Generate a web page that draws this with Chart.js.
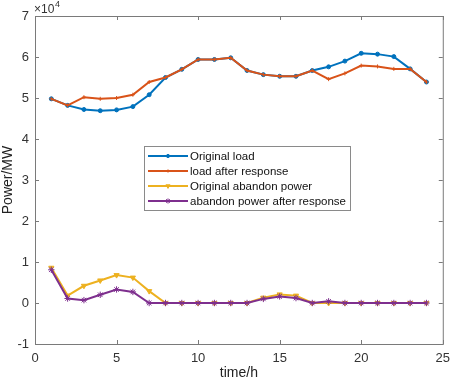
<!DOCTYPE html>
<html>
<head>
<meta charset="utf-8">
<script src="https://cdn.jsdelivr.net/npm/chart.js@4.4.1/dist/chart.umd.min.js"></script>
<style>
    html, body { margin: 0; padding: 0; background: #fff; }
    #wrap { width: 457px; height: 382px; }
</style>
</head>
<body>
<div id="wrap"><canvas id="chart1"></canvas></div>
<script>
// часы и значения (x10^4 MW)
const hours = [1, 2, 3, 4, 5, 6, 7, 8, 9, 10, 11, 12, 13, 14, 15, 16, 17, 18, 19, 20, 21, 22, 23, 24];
const originalLoad = [4.98, 4.82, 4.72, 4.69, 4.71, 4.79, 5.08, 5.50, 5.70, 5.94, 5.94, 5.98, 5.67, 5.57, 5.53, 5.53, 5.67, 5.76, 5.90, 6.09, 6.07, 6.01, 5.71, 5.39];
const loadAfter = [4.98, 4.82, 5.02, 4.98, 5.00, 5.08, 5.39, 5.50, 5.70, 5.94, 5.94, 5.98, 5.67, 5.57, 5.53, 5.53, 5.67, 5.46, 5.60, 5.79, 5.77, 5.71, 5.71, 5.39];
const originalAbandon = [0.86, 0.18, 0.42, 0.55, 0.68, 0.62, 0.29, 0, 0, 0, 0, 0, 0, 0.13, 0.21, 0.18, 0, 0, 0, 0, 0, 0, 0, 0];
const abandonAfter = [0.81, 0.11, 0.07, 0.20, 0.33, 0.27, 0, 0, 0, 0, 0, 0, 0, 0.10, 0.16, 0.12, 0, 0.04, 0, 0, 0, 0, 0, 0];
const xTicks = [0, 5, 10, 15, 20, 25];
const yTicks = [-1, 0, 1, 2, 3, 4, 5, 6, 7];

const FONT = 'Arial, "Liberation Sans", sans-serif';
const AXIS = '#7a7a7a';

function pts(ys) {
    return hours.map((h, i) => ({ x: h, y: ys[i] }));
}

function series(label, ys, color, style, radius, rot, order) {
    return {
        label: label,
        data: pts(ys),
        order: order, // последние серии поверх первых
        borderColor: color,
        backgroundColor: color,
        borderWidth: 2,
        pointStyle: style,
        pointRadius: radius,
        pointRotation: rot || 0,
        pointBorderWidth: 1,
        pointBackgroundColor: color,
        pointBorderColor: color,
        tension: 0
    };
}

const data1 = {
    datasets: [
        series('Original load', originalLoad, '#0072BD', 'circle', 2, 0, 3),
        series('load after response', loadAfter, '#D95319', 'cross', 2, 0, 2),
        series('Original abandon power', originalAbandon, '#EDB120', 'triangle', 3, 180, 1),
        series('abandon power after response', abandonAfter, '#7E2F8E', 'star', 3.2, 0, 0)
    ]
};

// рамка, внутренние засечки, множитель и легенда
const framePlugin = {
    id: 'frame',
    afterDraw(chart) {
        const ctx = chart.ctx;
        const a = chart.chartArea;
        const xs = chart.scales.x, ys = chart.scales.y;
        ctx.save();
        ctx.strokeStyle = AXIS;
        ctx.lineWidth = 1;
        ctx.strokeRect(a.left + 0.5, a.top + 0.5, a.right - a.left, a.bottom - a.top);
        ctx.beginPath();
        xTicks.forEach(v => {
            const px = Math.round(xs.getPixelForValue(v)) + 0.5;
            ctx.moveTo(px, a.bottom); ctx.lineTo(px, a.bottom - 4);
            ctx.moveTo(px, a.top); ctx.lineTo(px, a.top + 4);
        });
        yTicks.forEach(v => {
            const py = Math.round(ys.getPixelForValue(v)) + 0.5;
            ctx.moveTo(a.left, py); ctx.lineTo(a.left + 4, py);
            ctx.moveTo(a.right, py); ctx.lineTo(a.right - 4, py);
        });
        ctx.stroke();

        // x10^4
        ctx.fillStyle = '#333';
        ctx.textBaseline = 'alphabetic';
        ctx.textAlign = 'left';
        ctx.font = '12px ' + FONT;
        ctx.fillText('\u00d710', a.left - 1, a.top - 3);
        ctx.font = '9px ' + FONT;
        ctx.fillText('4', a.left + 20, a.top - 9);

        // легенда
        const lx = 144, ly = 146, lw = 206, lh = 64;
        ctx.fillStyle = '#fff';
        ctx.fillRect(lx, ly, lw, lh);
        ctx.strokeStyle = '#8a8a8a';
        ctx.strokeRect(lx + 0.5, ly + 0.5, lw, lh);
        ctx.font = '11.5px ' + FONT;
        ctx.textBaseline = 'middle';
        chart.data.datasets.forEach((ds, i) => {
            const y = ly + 10 + i * 15;
            ctx.strokeStyle = ds.borderColor;
            ctx.lineWidth = 2;
            ctx.beginPath();
            ctx.moveTo(lx + 4, y); ctx.lineTo(lx + 44, y);
            ctx.stroke();
            ctx.lineWidth = 1;
            ctx.fillStyle = ds.borderColor;
            Chart.helpers.drawPoint(ctx, {
                pointStyle: ds.pointStyle,
                radius: ds.pointRadius * 0.8,
                rotation: ds.pointRotation,
                borderWidth: 1
            }, lx + 24, y);
            ctx.fillStyle = '#111';
            ctx.fillText(ds.label, lx + 46, y + 1);
        });
        ctx.restore();
    }
};

document.addEventListener('DOMContentLoaded', () => {
    const chart1 = document.getElementById('chart1');
    new Chart(chart1.getContext('2d'), {
        type: 'line',
        data: data1,
        plugins: [framePlugin],
        options: {
            responsive: true,
            maintainAspectRatio: false,
            animation: false,
            layout: { padding: { left: 0, right: 7, top: 16, bottom: 0 } },
            plugins: {
                legend: { display: false },
                tooltip: { enabled: false }
            },
            scales: {
                x: {
                    type: 'linear',
                    min: 0,
                    max: 25,
                    afterBuildTicks: s => { s.ticks = xTicks.map(v => ({ value: v })); },
                    afterFit: s => { s.height = 38; },
                    grid: { display: false, drawTicks: false },
                    border: { display: false },
                    ticks: {
                        color: '#333',
                        padding: 7,
                        maxRotation: 0,
                        font: { family: FONT, size: 13 }
                    },
                    title: {
                        display: true,
                        text: 'time/h',
                        color: '#222',
                        padding: { top: 0, bottom: 0 },
                        font: { family: FONT, size: 14 }
                    }
                },
                y: {
                    min: -1,
                    max: 7,
                    afterBuildTicks: s => { s.ticks = yTicks.map(v => ({ value: v })); },
                    afterFit: s => { s.width = 35; },
                    grid: { display: false, drawTicks: false },
                    border: { display: false },
                    ticks: {
                        color: '#333',
                        padding: 6,
                        font: { family: FONT, size: 13 }
                    },
                    title: {
                        display: true,
                        text: 'Power/MW',
                        color: '#222',
                        padding: { top: 0, bottom: 0 },
                        font: { family: FONT, size: 14 }
                    }
                }
            }
        }
    });
});
</script>
</body>
</html>
